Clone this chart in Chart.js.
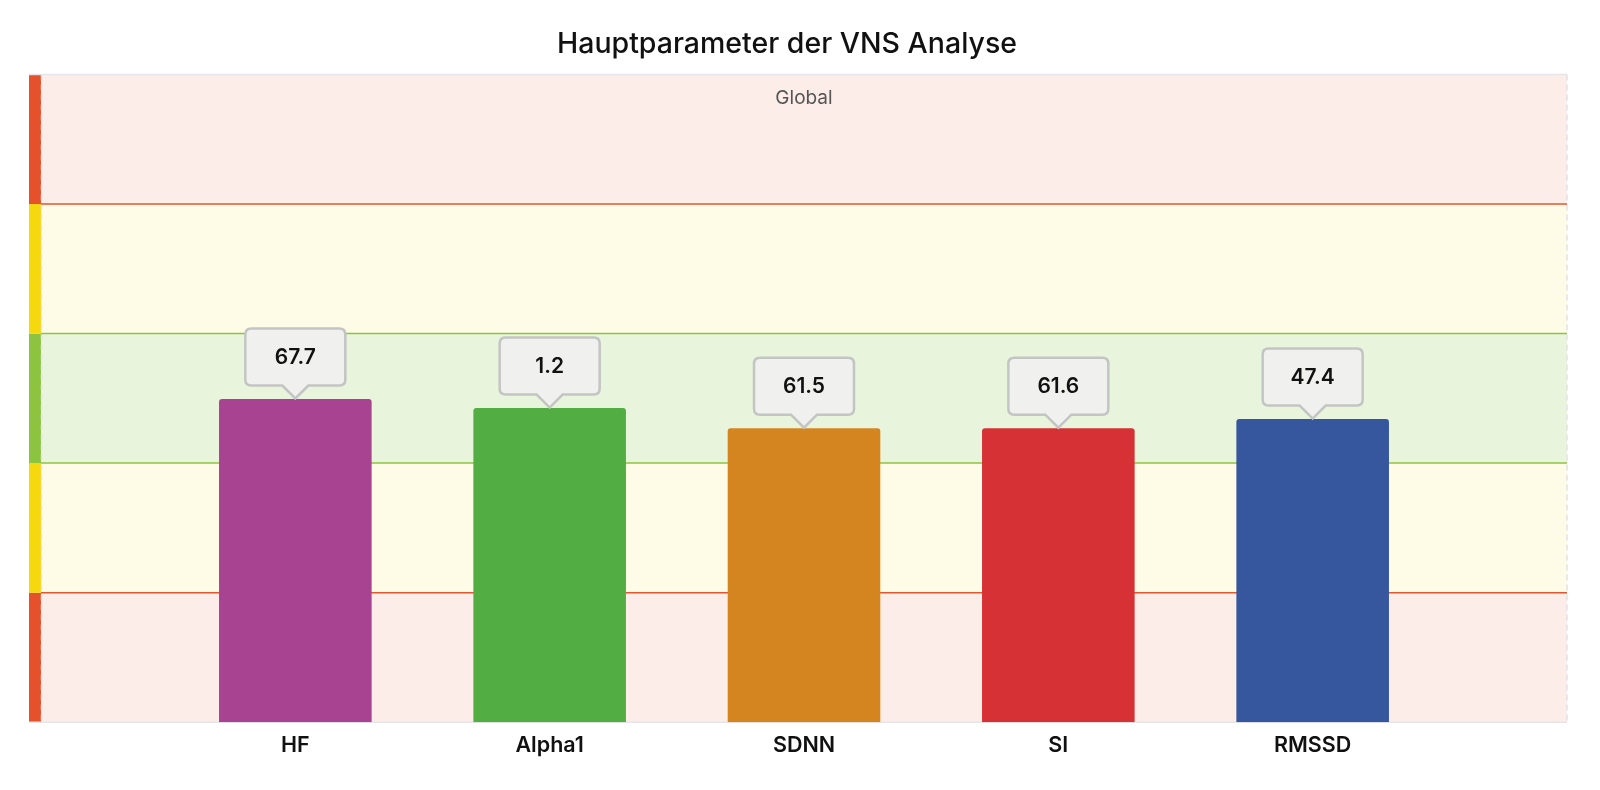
<!DOCTYPE html>
<html>
<head>
<meta charset="utf-8">
<script src="https://cdn.jsdelivr.net/npm/chart.js@4.4.1/dist/chart.umd.min.js"></script>
<style>
  html, body { margin: 0; padding: 0; background: #ffffff; }
  #wrap { width: 1600px; height: 790px; }
</style>
</head>
<body>
<div id="wrap"><canvas id="c" width="1600" height="790"></canvas></div>
<script>
// ---- data ----
const chartTitle = 'Hauptparameter der VNS Analyse';
const bandTitle = 'Global';
const categories = ['', 'HF', 'Alpha1', 'SDNN', 'SI', 'RMSSD', ''];
const barValues = [null, 49.9, 48.5, 45.4, 45.4, 46.8, null];
const valueLabels = ['', '67.7', '1.2', '61.5', '61.6', '47.4', ''];
const barColors = ['#000000', '#A84391', '#52AE42', '#D58520', '#D63134', '#36579E', '#000000'];
const zoneEdges = [0, 20, 40, 60, 80, 100];
const zoneFills = ['#FCEDE9', '#FEFBE7', '#E8F4DB', '#FEFBE7', '#FCEDE9'];
const zoneStrip = ['#E4512A', '#F5D80E', '#8CC43F', '#F5D80E', '#E4512A'];
const zoneLines = [
  { value: 20, color: '#E4562E' },
  { value: 40, color: '#8CC63F' },
  { value: 60, color: '#8CC63F' },
  { value: 80, color: '#E4562E' }
];

const zonesPlugin = {
  id: 'zones',
  beforeDatasetsDraw(chart) {
    const { ctx, chartArea: a, scales: { y } } = chart;
    ctx.save();
    for (let i = 0; i < zoneFills.length; i++) {
      const y0 = y.getPixelForValue(zoneEdges[i]);
      const y1 = y.getPixelForValue(zoneEdges[i + 1]);
      ctx.fillStyle = zoneFills[i];
      ctx.fillRect(a.left, y1, a.right - a.left, y0 - y1);
      ctx.fillStyle = zoneStrip[i];
      ctx.fillRect(a.left - 12, y1, 12, y0 - y1);
    }
    // frame lines
    ctx.strokeStyle = '#E6E6EA';
    ctx.lineWidth = 1.5;
    ctx.beginPath();
    ctx.moveTo(a.left - 12, a.top); ctx.lineTo(a.right, a.top);
    ctx.moveTo(a.left - 12, a.bottom); ctx.lineTo(a.right, a.bottom);
    ctx.stroke();
    ctx.setLineDash([6, 4]);
    ctx.strokeStyle = '#E2E2E6';
    ctx.beginPath();
    ctx.moveTo(a.right, a.top); ctx.lineTo(a.right, a.bottom);
    ctx.moveTo(a.left + 0.5, a.top); ctx.lineTo(a.left + 0.5, a.bottom);
    ctx.stroke();
    ctx.setLineDash([]);
    // zone boundary lines
    ctx.lineWidth = 1.5;
    zoneLines.forEach(l => {
      const py = y.getPixelForValue(l.value);
      ctx.strokeStyle = l.color;
      ctx.beginPath();
      ctx.moveTo(a.left, py); ctx.lineTo(a.right, py);
      ctx.stroke();
    });
    // band title
    ctx.fillStyle = '#555555';
    ctx.font = '19px Inter, "Open Sans", sans-serif';
    ctx.textAlign = 'center';
    ctx.textBaseline = 'middle';
    ctx.fillText(bandTitle, (a.left + a.right) / 2, a.top + 24);
    ctx.restore();
  }
};

const calloutPlugin = {
  id: 'callouts',
  afterDatasetsDraw(chart) {
    const { ctx } = chart;
    const meta = chart.getDatasetMeta(0);
    ctx.save();
    meta.data.forEach((bar, i) => {
      if (barValues[i] === null || barValues[i] === undefined) return;
      const cx = bar.x;
      const tip = bar.y - 0.5;
      const w = 100, h = 57, nh = 13, nw = 13, r = 6;
      const bottom = tip - nh;
      const top = bottom - h;
      const left = cx - w / 2, right = cx + w / 2;
      ctx.beginPath();
      ctx.moveTo(left + r, top);
      ctx.lineTo(right - r, top);
      ctx.quadraticCurveTo(right, top, right, top + r);
      ctx.lineTo(right, bottom - r);
      ctx.quadraticCurveTo(right, bottom, right - r, bottom);
      ctx.lineTo(cx + nw, bottom);
      ctx.lineTo(cx, tip);
      ctx.lineTo(cx - nw, bottom);
      ctx.lineTo(left + r, bottom);
      ctx.quadraticCurveTo(left, bottom, left, bottom - r);
      ctx.lineTo(left, top + r);
      ctx.quadraticCurveTo(left, top, left + r, top);
      ctx.closePath();
      ctx.fillStyle = '#F0F1EE';
      ctx.fill();
      ctx.lineWidth = 2.5;
      ctx.strokeStyle = '#C3C5C4';
      ctx.stroke();
      ctx.fillStyle = '#111111';
      ctx.font = '600 21px Inter, "Open Sans", sans-serif';
      ctx.textAlign = 'center';
      ctx.textBaseline = 'middle';
      ctx.fillText(valueLabels[i], cx, (top + bottom) / 2 + 1);
    });
    ctx.restore();
  }
};

new Chart(document.getElementById('c'), {
  type: 'bar',
  data: {
    labels: categories,
    datasets: [{
      data: barValues,
      backgroundColor: barColors,
      borderColor: barColors,
      borderWidth: 0,
      borderRadius: { topLeft: 3, topRight: 3, bottomLeft: 0, bottomRight: 0 },
      borderSkipped: 'bottom',
      barPercentage: 0.6,
      categoryPercentage: 1.0
    }]
  },
  options: {
    responsive: false,
    animation: false,
    devicePixelRatio: 1,
    layout: { padding: { left: 7, right: 33, top: 0, bottom: 22 } },
    plugins: {
      legend: { display: false },
      tooltip: { enabled: false },
      title: {
        display: true,
        text: chartTitle,
        color: '#111111',
        font: { family: 'Inter, "Open Sans", sans-serif', size: 28.5, weight: '500' },
        padding: { top: 27, bottom: 13.3 }
      }
    },
    scales: {
      x: {
        offset: false,
        grid: { display: false, drawTicks: false },
        border: { display: false },
        ticks: {
          autoSkip: false, maxRotation: 0, padding: 10,
          color: '#111111',
          font: { family: 'Inter, "Open Sans", sans-serif', size: 21.5, weight: '600' }
        }
      },
      y: {
        min: 0, max: 100,
        grid: { display: false, drawTicks: false },
        border: { display: false },
        ticks: { display: false },
        afterFit(scale) { scale.width = 34; }
      }
    }
  },
  plugins: [zonesPlugin, calloutPlugin]
});
</script>
</body>
</html>
